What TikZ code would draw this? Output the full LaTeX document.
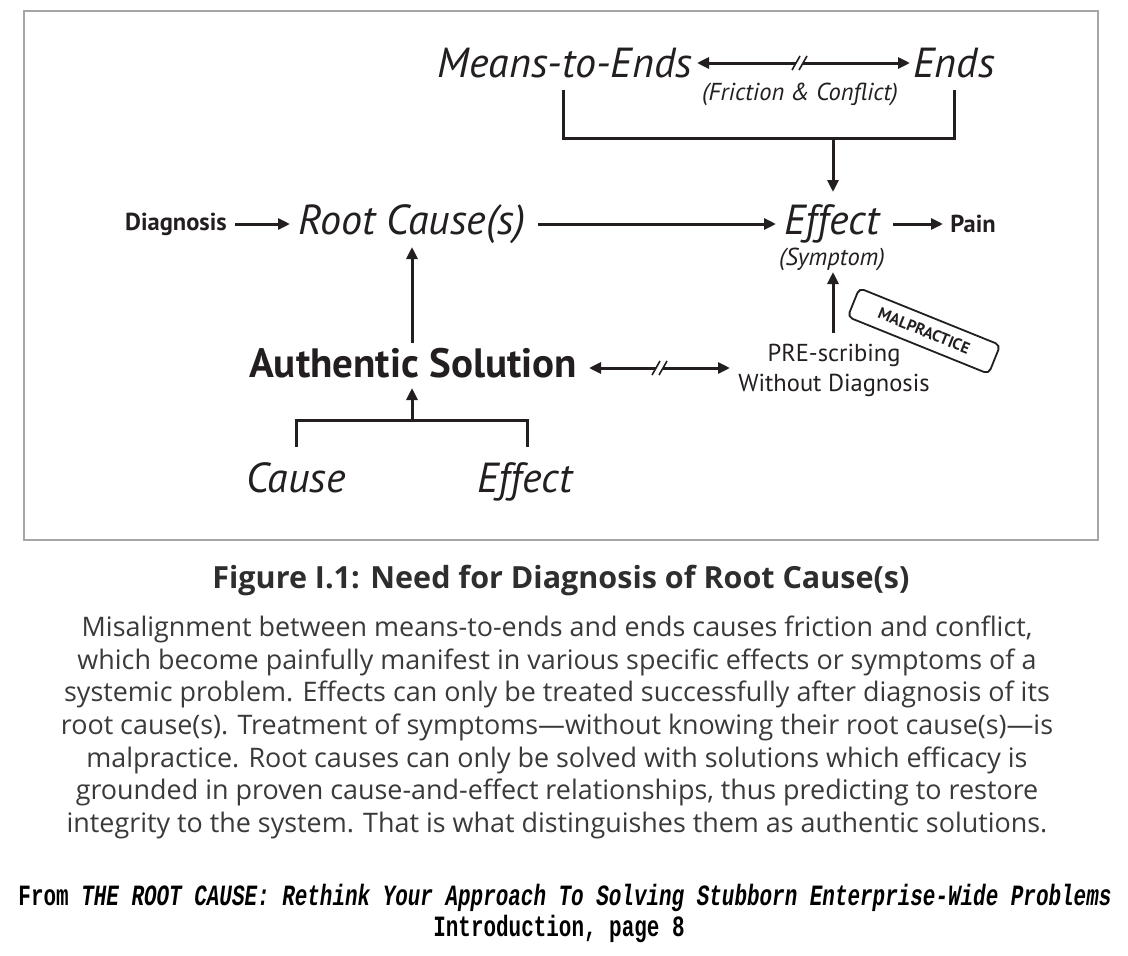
\documentclass[tikz,border=0pt]{standalone}
\usepackage{fontspec}
\setmainfont{PT Sans}
\newfontfamily\capfont{Open Sans}
\newfontfamily\monofont{Liberation Mono}
\usetikzlibrary{arrows.meta,calc}
\definecolor{ink}{HTML}{231F20}
\definecolor{captxt}{HTML}{3A3A3A}
\tikzset{
  conn/.style={line width=3pt, draw=ink, -{Triangle[length=12pt,width=11pt]}},
  seg/.style={line width=3pt, draw=ink},
  brk/.style={line width=1.6pt, draw=ink},
  bigit/.style={font=\fontsize{42}{46}\selectfont\itshape, text=ink, inner sep=0pt},
  smallit/.style={font=\fontsize{24.5}{28}\selectfont\itshape, text=ink, inner sep=0pt},
  smallbf/.style={font=\fontsize{24.5}{28}\selectfont\bfseries, text=ink, inner sep=0pt},
  plain/.style={font=\fontsize{24.5}{30}\selectfont, text=ink, inner sep=0pt, align=center},
  para/.style={font=\capfont\fontsize{26.9}{32.6}\selectfont, text=captxt, inner sep=0pt, align=center},
  src/.style={font=\monofont\bfseries\fontsize{21}{22}\selectfont, text=black, inner sep=0pt},
}
\begin{document}
\begin{tikzpicture}[x=1pt,y=-1pt]
\useasboundingbox (0,0) rectangle (1128,956);
\fill[white] (0,0) rectangle (1128,956);
\draw[line width=1.2pt, draw=black!35] (24,11) rectangle (1098,540);

% top row
\node[bigit, anchor=base] (mte) at (565,77) {Means-to-Ends};
\node[bigit, anchor=base] (ends) at (954,77) {Ends};
\node[smallit] (fc) at (800,94) {(Friction \& Conflict)};
\coordinate (ta) at (697,63);
\coordinate (tb) at (910,63);
\coordinate (tm1) at (796,63);
\coordinate (tm2) at (803,63);
\draw[seg, {Triangle[length=12pt,width=11pt]}-] (ta) -- (tm1);
\draw[seg, -{Triangle[length=12pt,width=11pt]}] (tm2) -- (tb);
\draw[brk] ($(tm1)+(-4,7)$) -- ($(tm1)+(4,-7)$);
\draw[brk] ($(tm2)+(-4,7)$) -- ($(tm2)+(4,-7)$);

% top bracket
\coordinate (b1) at (563,90);
\coordinate (b2) at (563,138);
\coordinate (b3) at (954,138);
\coordinate (b4) at (954,90);
\coordinate (bm) at (833,138);
\draw[seg] (b1) -- (b2) -- (b3) -- (b4);

% middle row
\node[smallbf] (diag) at (176,224) {Diagnosis};
\node[bigit] (rc) at (412,224) {Root Cause(s)};
\node[bigit] (eff) at (832,224) {Effect};
\node[smallit] (sym) at (832,259) {(Symptom)};
\node[smallbf] (pain) at (973,224) {Pain};
\coordinate (effTop) at (833,192);
\draw[conn] (bm) -- (effTop);
\coordinate (d0) at (235,224);
\coordinate (d1) at (290,224);
\draw[conn] (d0) -- (d1);
\coordinate (r0) at (538,224);
\coordinate (r1) at (776,224);
\draw[conn] (r0) -- (r1);
\coordinate (p0) at (893,224);
\coordinate (p1) at (943,224);
\draw[conn] (p0) -- (p1);

% authentic solution row
\node[font=\fontsize{41}{46}\selectfont\bfseries, text=ink, inner sep=0pt, anchor=base] (auth) at (413,377) {Authentic Solution};
\node[plain] (pre) at (834,370) {PRE-scribing\\Without Diagnosis};
\coordinate (a0) at (412,343);
\coordinate (a1) at (412,247);
\draw[conn] (a0) -- (a1);
\coordinate (s0) at (833,333);
\coordinate (s1) at (833,272);
\draw[conn] (s0) -- (s1);
\coordinate (la) at (589,368);
\coordinate (lb) at (730,368);
\coordinate (lm1) at (656,368);
\coordinate (lm2) at (663,368);
\draw[seg, {Triangle[length=12pt,width=11pt]}-] (la) -- (lm1);
\draw[seg, -{Triangle[length=12pt,width=11pt]}] (lm2) -- (lb);
\draw[brk] ($(lm1)+(-4,7)$) -- ($(lm1)+(4,-7)$);
\draw[brk] ($(lm2)+(-4,7)$) -- ($(lm2)+(4,-7)$);

% stamp
\node[draw=ink, line width=1.8pt, rounded corners=5pt, rotate=-22, minimum width=152pt, minimum height=31pt, inner sep=0pt,
      font=\fontsize{16}{18}\selectfont\bfseries, text=ink] (mal) at (924,331) {MALPRACTICE};

% bottom bracket
\node[bigit, anchor=base] (cause) at (296,492) {Cause};
\node[bigit, anchor=base] (eff2) at (525,492) {Effect};
\coordinate (c1) at (296,447);
\coordinate (c2) at (296,420);
\coordinate (c3) at (527,420);
\coordinate (c4) at (527,447);
\draw[seg] (c1) -- (c2) -- (c3) -- (c4);
\coordinate (cm) at (412,420);
\coordinate (cm2) at (412,388);
\draw[conn] (cm) -- (cm2);

% caption
\node[font=\capfont\fontsize{30.5}{32}\selectfont\bfseries, text=captxt!80!black, inner sep=0pt] (cap) at (561,580) {Figure I.1: Need for Diagnosis of Root Cause(s)};
\node[para, anchor=north] (p) at (557,616) {Misalignment between means-to-ends and ends causes friction and conflict,\\
which become painfully manifest in various specific effects or symptoms of a\\
systemic problem. Effects can only be treated successfully after diagnosis of its\\
root cause(s). Treatment of symptoms\textemdash without knowing their root cause(s)\textemdash is\\
malpractice. Root causes can only be solved with solutions which efficacy is\\
grounded in proven cause-and-effect relationships, thus predicting to restore\\
integrity to the system. That is what distinguishes them as authentic solutions.};

\node[src] (src1) at (565,898) {\scalebox{0.997}[1.4]{From \textit{THE ROOT CAUSE: Rethink Your Approach To Solving Stubborn Enterprise-Wide Problems}}};
\node[src] (src2) at (559,929) {\scalebox{0.997}[1.4]{Introduction, page 8}};
\end{tikzpicture}
\end{document}
